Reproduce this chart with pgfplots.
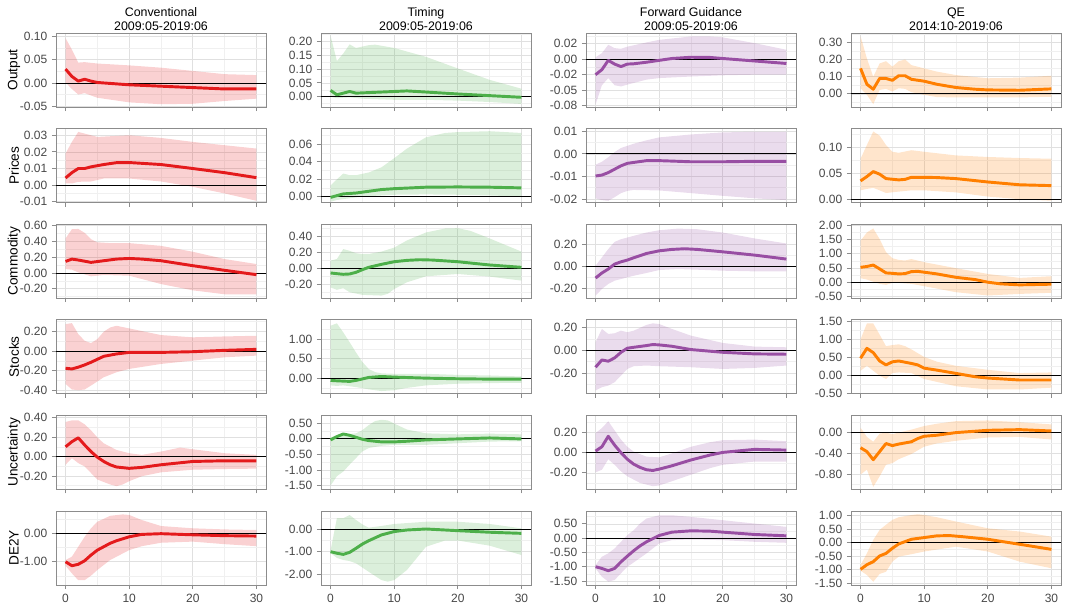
\documentclass[border=0pt]{standalone}
\usepackage{fontspec}
\setmainfont{Liberation Sans}
\usepackage{pgfplots}
\pgfplotsset{compat=1.18}
\usepgfplotslibrary{groupplots,fillbetween}
\definecolor{cR}{HTML}{E41A1C}
\definecolor{cG}{HTML}{4DAF4A}
\definecolor{cP}{HTML}{984EA3}
\definecolor{cO}{HTML}{FF7F00}
\pgfplotsset{
 irf/.style={scale only axis, width=157.5pt, height=55.5pt,
  xmin=-1.5, xmax=31.5, xtick={0,10,20,30}, minor xtick={5,15,25},
  grid=both,
  major grid style={black!12, line width=0.5pt},
  minor grid style={black!6, line width=0.35pt},
  axis line style={black!45, line width=0.7pt},
  tick align=outside, tick pos=left,
  major tick length=3pt, minor tick length=0pt,
  tick style={black!45, line width=0.6pt},
  scaled y ticks=false,
  /pgf/number format/assume math mode=true,
  yticklabel style={/pgf/number format/fixed, /pgf/number format/fixed zerofill,
    /pgf/number format/precision=2, font=\fontsize{9}{10}\selectfont, text=black!72},
  xticklabel style={font=\fontsize{9}{10}\selectfont, text=black!72},
  every axis y label/.style={at={(axis description cs:-0.2,0.5)}, anchor=center, rotate=90,
    font=\fontsize{10.2}{12}\selectfont},
  every axis title/.style={at={(axis description cs:0.5,1)}, anchor=south,
    inner sep=1pt, yshift=0.5pt, align=center, font=\fontsize{9.3}{10.5}\selectfont},
 }
}
\newcommand{\irf}[4]{%
 \addplot[draw=none, name path=H, forget plot] coordinates {#2};
 \addplot[draw=none, name path=L, forget plot] coordinates {#3};
 \addplot[fill=#1, fill opacity=0.2, draw=none, forget plot] fill between[of=H and L];
 \addplot[black, line width=0.6pt, forget plot] coordinates {(-1.5,0)(31.5,0)};
 \addplot[#1, line width=2.2pt, line join=round, forget plot] coordinates {#4};
}
\begin{document}
\begin{tikzpicture}
\begin{groupplot}[group style={group size=4 by 6, horizontal sep=41.25pt, vertical sep=16.2pt, xticklabels at=edge bottom}, irf]
% ---------- Row 1: Output
\nextgroupplot[title={Conventional\\2009:05-2019:06}, ylabel={Output}, ymin=-0.052, ymax=0.108,
 ytick={-0.05,0,0.05,0.10}, minor ytick={-0.025,0.025,0.075}]
\coordinate (NW) at (rel axis cs:0,1);
\irf{cR}{(0,0.097)(1,0.072)(2,0.044)(3,0.045)(5,0.042)(10,0.038)(15,0.033)(20,0.026)(25,0.019)(30,0.017)}
{(0,0.001)(1,-0.013)(2,-0.025)(3,-0.022)(4,-0.027)(5,-0.032)(10,-0.042)(15,-0.046)(20,-0.045)(25,-0.039)(30,-0.034)}
{(0,0.030)(1,0.014)(2,0.004)(3,0.008)(4,0.004)(5,0.001)(6,0.0)(8,-0.002)(10,-0.004)(15,-0.007)(20,-0.010)(25,-0.013)(30,-0.013)}
\nextgroupplot[title={Timing\\2009:05-2019:06}, ymin=-0.037, ymax=0.23,
 ytick={0,0.05,0.10,0.15,0.20}, minor ytick={-0.025,0.025,0.075,0.125,0.175,0.225}]
\irf{cG}{(0,0.221)(1,0.129)(2,0.156)(3,0.189)(4,0.176)(6,0.186)(7,0.188)(10,0.176)(15,0.144)(20,0.102)(25,0.061)(30,0.029)}
{(0,0.0)(1,-0.005)(3,-0.002)(5,-0.007)(10,-0.011)(15,-0.011)(20,-0.014)(25,-0.019)(30,-0.026)}
{(0,0.023)(1,0.007)(2,0.013)(3,0.019)(4,0.013)(6,0.015)(10,0.019)(12,0.021)(15,0.017)(20,0.01)(25,0.004)(30,-0.002)}
\nextgroupplot[title={Forward Guidance\\2009:05-2019:06}, ymin=-0.077, ymax=0.042,
 ytick={-0.075,-0.05,-0.025,0,0.025}, yticklabels={-0.08,-0.05,-0.02,0.00,0.02},
 minor ytick={-0.0625,-0.0375,-0.0125,0.0125,0.0375}]
\irf{cP}{(0,0.003)(1,0.0096)(2,0.023)(3,0.0177)(4,0.0166)(5,0.02)(8,0.0268)(10,0.031)(15,0.0364)(18,0.0364)(20,0.035)(25,0.0257)(30,0.015)}
{(0,-0.073)(1,-0.042)(2,-0.0305)(3,-0.042)(4,-0.044)(5,-0.041)(8,-0.033)(10,-0.0305)(15,-0.028)(20,-0.026)(25,-0.025)(30,-0.025)}
{(0,-0.025)(1,-0.017)(2,-0.002)(3,-0.008)(4,-0.012)(5,-0.008)(6,-0.0075)(8,-0.005)(10,-0.002)(12,0.001)(15,0.003)(18,0.0027)(20,0.001)(25,-0.003)(30,-0.007)}
\nextgroupplot[title={QE\\2014:10-2019:06}, ymin=-0.077, ymax=0.356,
 ytick={0,0.1,0.2,0.3}, minor ytick={-0.05,0.05,0.15,0.25,0.35}]
\irf{cO}{(0,0.338)(1,0.207)(2,0.1)(3,0.178)(4,0.191)(5,0.159)(6,0.191)(7,0.201)(8,0.168)(10,0.149)(12,0.13)(15,0.11)(20,0.091)(25,0.095)(30,0.106)}
{(0,0.033)(1,-0.006)(2,-0.06)(3,0.023)(4,0.029)(5,0.014)(6,0.033)(7,0.029)(8,0.01)(10,-0.006)(12,-0.019)(15,-0.021)(20,-0.021)(25,-0.021)(30,-0.017)}
{(0,0.149)(1,0.056)(2,0.027)(3,0.09)(4,0.09)(5,0.079)(6,0.106)(7,0.106)(8,0.085)(10,0.074)(12,0.056)(15,0.037)(18,0.027)(20,0.023)(25,0.021)(30,0.029)}
% ---------- Row 2: Prices
\nextgroupplot[ylabel={Prices}, ymin=-0.0105, ymax=0.034,
 ytick={-0.01,0,0.01,0.02,0.03}, minor ytick={-0.005,0.005,0.015,0.025}]
\irf{cR}{(0,0.019)(1,0.026)(2,0.032)(3,0.031)(5,0.029)(10,0.030)(15,0.0284)(20,0.026)(25,0.024)(30,0.022)}
{(0,0.001)(1,0.001)(2,0.002)(4,0.0022)(6,0.004)(10,0.004)(15,0.0022)(20,-0.001)(25,-0.005)(30,-0.0094)}
{(0,0.0043)(1,0.0075)(2,0.010)(3,0.010)(4,0.011)(6,0.0124)(8,0.0135)(10,0.0136)(15,0.0124)(20,0.010)(25,0.0075)(30,0.0045)}
\nextgroupplot[ymin=-0.007, ymax=0.078,
 ytick={0,0.02,0.04,0.06}, minor ytick={0.01,0.03,0.05,0.07}]
\irf{cG}{(0,0.0126)(1,0.0197)(2,0.0264)(3,0.0245)(4,0.0245)(6,0.0276)(8,0.0335)(10,0.044)(12,0.055)(15,0.068)(18,0.073)(20,0.074)(25,0.075)(30,0.073)}
{(0,-0.006)(1,-0.004)(3,-0.002)(5,0.0)(10,0.002)(15,0.0024)(20,0.002)(25,0.0012)(30,0.0)}
{(0,-0.001)(1,0.001)(2,0.003)(4,0.004)(6,0.006)(8,0.008)(10,0.009)(15,0.0107)(20,0.011)(25,0.0107)(30,0.0099)}
\nextgroupplot[ymin=-0.0216, ymax=0.0112,
 ytick={-0.02,-0.01,0,0.01}, minor ytick={-0.015,-0.005,0.005}]
\irf{cP}{(0,-0.0048)(1,-0.0035)(2,-0.0015)(3,0.0008)(4,0.0026)(6,0.0045)(8,0.006)(10,0.0073)(15,0.0086)(20,0.0095)(25,0.0098)(30,0.0098)}
{(0,-0.0197)(1,-0.0205)(2,-0.0208)(3,-0.0192)(4,-0.0174)(5,-0.0164)(6,-0.016)(10,-0.0162)(15,-0.0174)(20,-0.0186)(25,-0.0197)(30,-0.0205)}
{(0,-0.0098)(1,-0.0094)(2,-0.0083)(3,-0.0068)(4,-0.0053)(5,-0.0042)(6,-0.0038)(8,-0.003)(10,-0.003)(15,-0.0035)(20,-0.0035)(25,-0.0033)(30,-0.0033)}
\nextgroupplot[ymin=-0.0066, ymax=0.1355,
 ytick={0,0.05,0.10}, minor ytick={0.025,0.075,0.125}]
\irf{cO}{(0,0.0776)(1,0.104)(2,0.13)(3,0.122)(4,0.104)(5,0.091)(6,0.089)(8,0.094)(10,0.091)(15,0.084)(20,0.081)(25,0.079)(30,0.0776)}
{(0,0.017)(1,0.0197)(2,0.0217)(3,0.017)(4,0.0118)(6,0.0145)(8,0.017)(10,0.017)(15,0.013)(20,0.005)(25,0.0)(30,-0.003)}
{(0,0.035)(1,0.0434)(2,0.053)(3,0.048)(4,0.0395)(6,0.037)(7,0.038)(8,0.042)(10,0.042)(12,0.0415)(15,0.0395)(20,0.033)(25,0.0276)(30,0.026)}
% ---------- Row 3: Commodity
\nextgroupplot[ylabel={Commodity}, ymin=-0.32, ymax=0.62,
 ytick={-0.2,0,0.2,0.4,0.6}, minor ytick={-0.3,-0.1,0.1,0.3,0.5}]
\irf{cR}{(0,0.44)(1,0.556)(2,0.56)(3,0.51)(4,0.43)(5,0.39)(7,0.38)(10,0.38)(15,0.345)(20,0.27)(25,0.177)(30,0.114)}
{(0,0.05)(1,0.042)(2,0.008)(4,-0.042)(6,-0.025)(10,-0.034)(15,-0.14)(20,-0.22)(25,-0.27)(30,-0.27)}
{(0,0.147)(1,0.177)(2,0.165)(4,0.135)(6,0.156)(8,0.177)(10,0.185)(12,0.177)(15,0.156)(20,0.093)(25,0.034)(30,-0.021)}
\nextgroupplot[ymin=-0.375, ymax=0.554,
 ytick={-0.2,0,0.2,0.4}, minor ytick={-0.3,-0.1,0.1,0.3,0.5}]
\irf{cG}{(0,0.096)(1,0.117)(2,0.242)(3,0.22)(4,0.19)(5,0.18)(6,0.18)(8,0.21)(10,0.26)(12,0.35)(15,0.45)(18,0.5)(20,0.504)(22,0.47)(25,0.375)(30,0.21)}
{(0,-0.24)(1,-0.27)(2,-0.25)(3,-0.3)(5,-0.333)(8,-0.342)(9,-0.32)(10,-0.26)(12,-0.175)(15,-0.1)(20,-0.071)(25,-0.104)(30,-0.154)}
{(0,-0.058)(1,-0.067)(2,-0.075)(3,-0.071)(4,-0.05)(5,-0.017)(6,0.0125)(8,0.05)(10,0.083)(12,0.1)(14,0.108)(16,0.104)(20,0.083)(25,0.042)(30,0.0125)}
\nextgroupplot[ymin=-0.29, ymax=0.385,
 ytick={-0.2,0,0.2}, minor ytick={-0.1,0.1,0.3}]
\irf{cP}{(0,0.006)(1,0.082)(2,0.158)(3,0.224)(4,0.248)(6,0.279)(8,0.309)(10,0.33)(13,0.345)(16,0.339)(20,0.309)(25,0.255)(30,0.209)}
{(0,-0.267)(1,-0.206)(2,-0.16)(3,-0.13)(4,-0.115)(6,-0.085)(8,-0.06)(10,-0.033)(13,-0.024)(16,-0.03)(20,-0.039)(25,-0.045)(30,-0.045)}
{(0,-0.106)(1,-0.06)(2,-0.024)(3,0.021)(4,0.042)(5,0.058)(6,0.079)(8,0.118)(10,0.142)(12,0.155)(14,0.161)(16,0.155)(20,0.133)(25,0.103)(30,0.067)}
\nextgroupplot[ymin=-0.56, ymax=2.03,
 ytick={-0.5,0,0.5,1,1.5,2}, minor ytick={-0.25,0.25,0.75,1.25,1.75}]
\irf{cO}{(0,1.45)(1,1.74)(2,1.88)(3,1.51)(4,1.05)(5,0.84)(6,0.78)(7,0.76)(8,0.81)(10,0.7)(15,0.49)(20,0.29)(25,0.15)(30,0.21)}
{(0,0.14)(1,0.093)(3,-0.058)(4,-0.093)(5,-0.023)(6,-0.023)(8,-0.058)(10,-0.14)(15,-0.35)(20,-0.465)(25,-0.41)(30,-0.37)}
{(0,0.52)(1,0.55)(2,0.6)(3,0.465)(4,0.325)(5,0.31)(6,0.29)(7,0.3)(8,0.37)(9,0.38)(10,0.35)(12,0.29)(15,0.17)(18,0.093)(20,0.0)(22,-0.058)(25,-0.093)(30,-0.07)}
% ---------- Row 4: Stocks
\nextgroupplot[ylabel={Stocks}, ymin=-0.437, ymax=0.319,
 ytick={-0.4,-0.2,0,0.2}, minor ytick={-0.3,-0.1,0.1,0.3}]
\irf{cR}{(0,0.275)(1,0.285)(2,0.173)(3,0.105)(4,0.081)(5,0.122)(6,0.197)(7,0.24)(8,0.258)(10,0.231)(15,0.163)(20,0.14)(25,0.149)(30,0.156)}
{(0,-0.336)(1,-0.393)(2,-0.40)(3,-0.393)(4,-0.353)(6,-0.268)(8,-0.217)(10,-0.183)(15,-0.132)(20,-0.098)(25,-0.064)(30,-0.047)}
{(0,-0.176)(1,-0.183)(2,-0.165)(3,-0.142)(4,-0.115)(6,-0.054)(8,-0.03)(10,-0.014)(15,-0.014)(20,-0.007)(25,0.007)(30,0.017)}
\nextgroupplot[ymin=-0.39, ymax=1.49,
 ytick={0,0.5,1}, minor ytick={-0.25,0.25,0.75,1.25}]
\irf{cG}{(0,1.34)(1,1.4)(2,1.17)(3,0.92)(4,0.66)(5,0.42)(6,0.24)(7,0.16)(8,0.13)(10,0.118)(15,0.118)(20,0.09)(25,0.076)(30,0.05)}
{(0,-0.176)(1,-0.19)(2,-0.176)(4,-0.22)(6,-0.277)(8,-0.32)(10,-0.3)(12,-0.24)(15,-0.176)(20,-0.134)(25,-0.118)(30,-0.11)}
{(0,-0.05)(1,-0.06)(3,-0.075)(4,-0.05)(6,0.025)(8,0.05)(10,0.034)(15,0.008)(20,-0.008)(25,-0.017)(30,-0.017)}
\nextgroupplot[ymin=-0.382, ymax=0.267,
 ytick={-0.2,0,0.2}, minor ytick={-0.3,-0.1,0.1}]
\irf{cP}{(0,0.07)(1,0.187)(2,0.143)(3,0.149)(4,0.172)(5,0.158)(6,0.172)(8,0.222)(9,0.236)(10,0.23)(12,0.187)(15,0.128)(20,0.064)(25,0.032)(30,0.026)}
{(0,-0.353)(1,-0.324)(2,-0.31)(3,-0.28)(4,-0.222)(5,-0.164)(6,-0.14)(8,-0.134)(10,-0.14)(15,-0.149)(20,-0.164)(25,-0.155)(30,-0.134)}
{(0,-0.149)(1,-0.085)(2,-0.096)(3,-0.067)(4,-0.018)(5,0.018)(6,0.026)(8,0.041)(9,0.05)(10,0.047)(12,0.035)(15,0.006)(20,-0.018)(25,-0.032)(30,-0.035)}
\nextgroupplot[ymin=-0.51, ymax=1.54,
 ytick={-0.5,0,0.5,1,1.5}, minor ytick={-0.25,0.25,0.75,1.25}]
\irf{cO}{(0,1.0)(1,1.44)(2,1.44)(3,1.13)(4,0.81)(5,0.84)(6,0.86)(7,0.81)(8,0.72)(10,0.51)(12,0.38)(15,0.265)(20,0.155)(25,0.064)(30,0.082)}
{(0,0.128)(1,0.265)(2,0.128)(3,-0.01)(4,-0.1)(5,0.064)(6,0.082)(8,0.064)(10,-0.1)(15,-0.3)(20,-0.39)(25,-0.39)(30,-0.34)}
{(0,0.475)(1,0.75)(2,0.63)(3,0.40)(4,0.29)(5,0.375)(6,0.40)(8,0.33)(9,0.29)(10,0.2)(12,0.146)(15,0.055)(18,-0.037)(20,-0.073)(25,-0.128)(30,-0.128)}
% ---------- Row 5: Uncertainty
\nextgroupplot[ylabel={Uncertainty}, ymin=-0.339, ymax=0.424,
 ytick={-0.2,0,0.2,0.4}, minor ytick={-0.3,-0.1,0.1,0.3}]
\irf{cR}{(0,0.356)(1,0.373)(2,0.373)(3,0.332)(4,0.27)(5,0.197)(6,0.136)(8,0.068)(10,0.034)(12,0.017)(15,0.051)(18,0.092)(20,0.075)(25,0.034)(30,0.017)}
{(0,-0.085)(1,-0.017)(2,-0.068)(3,-0.102)(4,-0.17)(5,-0.237)(7,-0.288)(8,-0.305)(9,-0.288)(10,-0.254)(12,-0.203)(15,-0.163)(20,-0.136)(25,-0.129)(30,-0.125)}
{(0,0.10)(1,0.153)(2,0.193)(3,0.119)(4,0.051)(5,-0.007)(6,-0.051)(7,-0.085)(8,-0.108)(10,-0.122)(12,-0.112)(15,-0.085)(20,-0.051)(25,-0.044)(30,-0.044)}
\nextgroupplot[ymin=-1.62, ymax=0.74,
 ytick={-1.5,-1,-0.5,0,0.5}, minor ytick={-1.25,-0.75,-0.25,0.25}]
\irf{cG}{(0,0.03)(1,0.116)(2,0.168)(3,0.147)(4,0.168)(5,0.27)(6,0.43)(7,0.56)(8,0.6)(9,0.58)(10,0.48)(12,0.29)(15,0.168)(20,0.137)(25,0.158)(30,0.137)}
{(0,-1.5)(1,-1.2)(2,-1.05)(3,-0.83)(4,-0.62)(5,-0.41)(6,-0.3)(8,-0.23)(10,-0.2)(15,-0.2)(20,-0.147)(25,-0.095)(30,-0.084)}
{(0,-0.04)(1,0.063)(2,0.147)(3,0.105)(4,0.042)(5,-0.021)(6,-0.063)(8,-0.105)(10,-0.105)(12,-0.084)(15,-0.042)(20,-0.01)(25,0.021)(30,-0.01)}
\nextgroupplot[ymin=-0.364, ymax=0.37,
 ytick={-0.2,0,0.2}, minor ytick={-0.3,-0.1,0.1,0.3}]
\irf{cP}{(0,0.195)(1,0.244)(2,0.312)(3,0.221)(4,0.13)(5,0.059)(6,0.01)(8,-0.039)(10,-0.046)(12,-0.007)(15,0.059)(18,0.104)(20,0.124)(25,0.13)(30,0.114)}
{(0,-0.195)(1,-0.169)(2,-0.065)(3,-0.12)(4,-0.185)(5,-0.234)(7,-0.3)(9,-0.332)(10,-0.325)(12,-0.283)(15,-0.218)(18,-0.153)(20,-0.12)(25,-0.088)(30,-0.088)}
{(0,0.016)(1,0.059)(2,0.163)(3,0.075)(4,0.0)(5,-0.065)(6,-0.114)(7,-0.146)(8,-0.169)(9,-0.176)(10,-0.163)(12,-0.13)(15,-0.072)(18,-0.023)(20,0.003)(25,0.033)(30,0.026)}
\nextgroupplot[ymin=-1.09, ymax=0.33,
 ytick={-0.8,-0.4,0}, minor ytick={-1.0,-0.6,-0.2,0.2}]
\irf{cO}{(0,0.094)(1,-0.082)(2,-0.176)(3,-0.02)(4,0.0)(5,-0.031)(6,0.0)(8,0.057)(10,0.126)(12,0.17)(15,0.22)(20,0.233)(25,0.2)(30,0.157)}
{(0,-0.806)(1,-0.71)(2,-1.04)(3,-0.84)(4,-0.617)(5,-0.586)(6,-0.51)(8,-0.41)(10,-0.27)(12,-0.208)(15,-0.157)(20,-0.094)(25,-0.082)(30,-0.132)}
{(0,-0.29)(1,-0.365)(2,-0.52)(3,-0.365)(4,-0.21)(5,-0.25)(6,-0.22)(8,-0.176)(9,-0.113)(10,-0.07)(12,-0.05)(15,0.0)(20,0.044)(25,0.057)(30,0.031)}
% ---------- Row 6: DE2Y
\nextgroupplot[ylabel={DE2Y}, ymin=-1.82, ymax=0.79,
 ytick={-1,0}, minor ytick={-1.5,-0.5,0.5}]
\irf{cR}{(0,-0.94)(1,-0.82)(2,-0.47)(3,-0.12)(4,0.18)(5,0.41)(7,0.62)(9,0.67)(10,0.65)(12,0.47)(15,0.26)(20,0.18)(25,0.14)(30,0.12)}
{(0,-1.14)(1,-1.41)(2,-1.65)(3,-1.65)(4,-1.49)(5,-1.29)(7,-0.94)(10,-0.59)(12,-0.45)(15,-0.33)(20,-0.29)(25,-0.38)(30,-0.45)}
{(0,-1.0)(1,-1.14)(2,-1.09)(3,-0.965)(4,-0.765)(5,-0.59)(6,-0.47)(7,-0.35)(8,-0.26)(10,-0.12)(12,-0.035)(15,-0.01)(20,-0.05)(25,-0.08)(30,-0.094)}
\nextgroupplot[ymin=-2.49, ymax=0.82,
 ytick={-2,-1,0}, minor ytick={-1.5,-0.5,0.5}]
\irf{cG}{(0,-0.95)(1,0.5)(2,0.5)(3,0.64)(4,0.42)(5,0.22)(6,0.075)(8,0.15)(10,0.24)(15,0.34)(20,0.34)(25,0.24)(30,0.045)}
{(0,-1.06)(1,-1.28)(2,-1.37)(3,-1.42)(4,-1.52)(6,-1.9)(8,-2.27)(9,-2.34)(10,-2.27)(12,-1.82)(15,-0.78)(18,-0.5)(20,-0.5)(25,-0.73)(30,-1.15)}
{(0,-1.0)(1,-1.07)(2,-1.12)(3,-1.03)(4,-0.85)(5,-0.66)(6,-0.51)(8,-0.25)(10,-0.1)(12,-0.03)(15,0.015)(20,-0.06)(25,-0.13)(30,-0.18)}
\nextgroupplot[ymin=-1.64, ymax=0.95,
 ytick={-1.5,-1,-0.5,0,0.5}, minor ytick={-1.25,-0.75,-0.25,0.25,0.75}]
\irf{cP}{(0,-0.94)(1,-0.65)(2,-0.535)(3,-0.36)(4,-0.128)(5,0.105)(6,0.28)(7,0.51)(8,0.686)(10,0.8)(12,0.8)(15,0.744)(20,0.628)(25,0.51)(30,0.395)}
{(0,-1.06)(1,-1.35)(2,-1.52)(3,-1.465)(4,-1.23)(5,-1.0)(6,-0.85)(8,-0.535)(10,-0.186)(12,-0.07)(15,-0.047)(20,-0.07)(25,-0.128)(30,-0.163)}
{(0,-1.0)(1,-1.06)(2,-1.14)(3,-1.06)(4,-0.83)(5,-0.63)(6,-0.44)(7,-0.27)(8,-0.13)(10,0.093)(12,0.21)(15,0.256)(18,0.244)(20,0.21)(25,0.128)(30,0.081)}
\nextgroupplot[ymin=-1.57, ymax=1.17,
 ytick={-1.5,-1,-0.5,0,0.5,1}, minor ytick={-1.25,-0.75,-0.25,0.25,0.75}]
\irf{cO}{(0,-0.83)(1,-0.4)(2,0.1)(3,0.47)(4,0.66)(5,0.84)(6,0.94)(8,1.02)(9,1.05)(10,1.02)(12,0.94)(15,0.78)(20,0.53)(25,0.41)(30,0.22)}
{(0,-1.04)(1,-1.2)(2,-1.45)(3,-1.16)(4,-1.08)(5,-0.705)(6,-0.52)(8,-0.43)(10,-0.33)(15,-0.15)(20,-0.33)(25,-0.705)(30,-0.95)}
{(0,-0.99)(1,-0.82)(2,-0.705)(3,-0.495)(4,-0.4)(5,-0.21)(6,-0.05)(8,0.124)(10,0.186)(12,0.25)(14,0.26)(16,0.22)(20,0.124)(23,0.012)(25,-0.062)(30,-0.25)}
\end{groupplot}
\pgfresetboundingbox
\path ([shift={(-42pt,24.75pt)}]NW) rectangle ([shift={(756.75pt,-428.25pt)}]NW);
\end{tikzpicture}
\end{document}
